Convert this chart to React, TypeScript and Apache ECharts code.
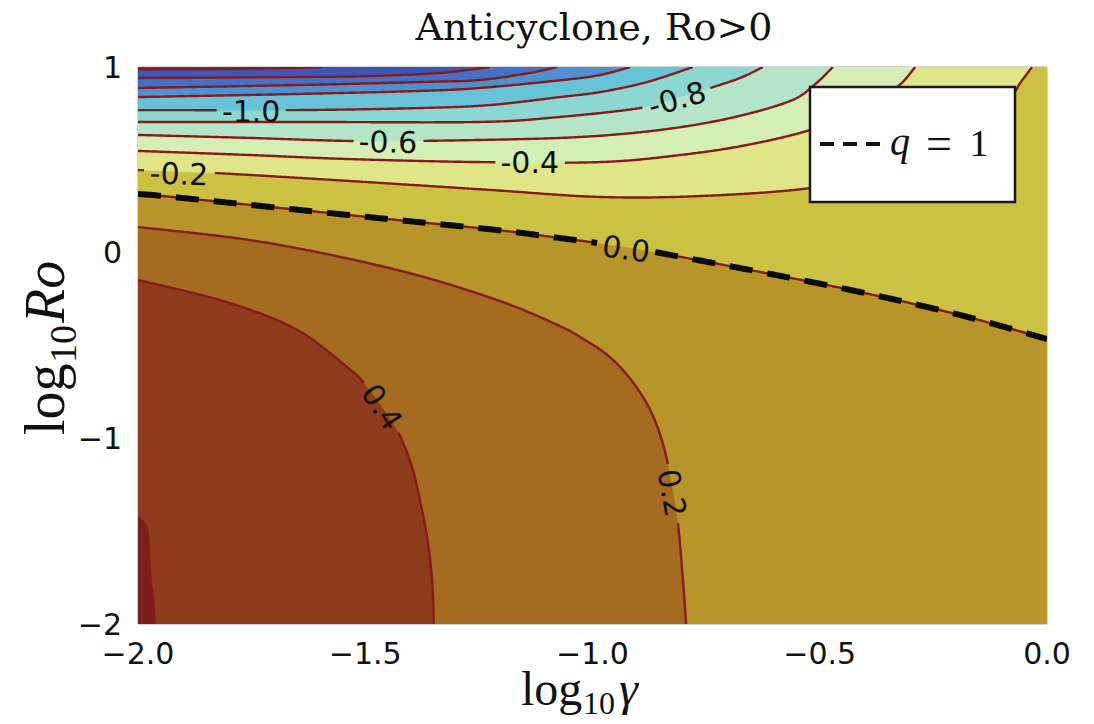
import React, { useEffect, useRef } from 'react';
import * as echarts from 'echarts';

// ---------- data ----------
const xTicks = [-2.0, -1.5, -1.0, -0.5, 0.0];
const yTicks = [-2, -1, 0, 1];

const levels = [0.6, 0.4, 0.2, 0.0, -0.2, -0.4, -0.6, -0.8, -1.0, -1.2, -1.4, -1.6, -1.8];
// bandColors[0]: above the highest level; bandColors[i + 1]: below levels[i]
const bandColors = [
  '#7d1e1d', '#8e3c1d', '#a56b20', '#b8952a', '#cbc244', '#e0e588', '#d5eeb4',
  '#b5e5c9', '#8dd7d2', '#69c3d8', '#4f90d0', '#4470c5', '#3d57b9', '#3a4bb0',
];

const c06x = [-2.0, -1.98, -1.974, -1.967, -1.963];
const c06y = [-1.424, -1.494, -1.709, -1.871, -2.0];
const c04x = [-2.0, -1.798, -1.65, -1.54, -1.501, -1.463, -1.43, -1.402, -1.386, -1.364, -1.353, -1.349];
const c04y = [-0.147, -0.271, -0.416, -0.616, -0.707, -0.831, -0.955, -1.117, -1.262, -1.531, -1.763, -2.0];
const c02x = [-2.0, -1.725, -1.43, -1.21, -1.072, -1.017, -0.973, -0.935, -0.902, -0.873, -0.851, -0.836, -0.823, -0.812, -0.801, -0.794];
const c02y = [0.138, 0.057, -0.093, -0.255, -0.395, -0.47, -0.54, -0.627, -0.729, -0.847, -0.982, -1.117, -1.278, -1.456, -1.763, -2.0];
const c00x = [-2.0, -1.945, -1.688, -1.43, -1.21, -1.072, -0.926, -0.851, -0.631, -0.411, -0.191, 0.0];
const c00y = [0.316, 0.305, 0.241, 0.176, 0.122, 0.079, 0.031, -0.002, -0.104, -0.212, -0.336, -0.465];
const cm02x = [-2.0, -1.831, -1.534, -1.226, -0.983, -0.763, -0.521, -0.323, -0.169, -0.081, -0.059, -0.033];
const cm02y = [0.445, 0.429, 0.386, 0.338, 0.3, 0.305, 0.348, 0.445, 0.634, 0.838, 0.914, 1.0];
const cm04x = [-2.0, -1.754, -1.534, -1.248, -0.983, -0.807, -0.66, -0.521, -0.411, -0.33, -0.29];
const cm04y = [0.548, 0.526, 0.504, 0.488, 0.488, 0.526, 0.58, 0.661, 0.768, 0.892, 1.0];
const cm06x = [-2.0, -1.754, -1.512, -1.248, -1.027, -0.851, -0.697, -0.565, -0.51, -0.471];
const cm06y = [0.634, 0.618, 0.601, 0.607, 0.623, 0.661, 0.725, 0.817, 0.908, 1.0];
const cm08x = [-2.0, -1.644, -1.248, -1.072, -0.895, -0.814, -0.741, -0.675, -0.625];
const cm08y = [0.704, 0.704, 0.704, 0.731, 0.779, 0.833, 0.887, 0.941, 1.0];
const cm10x = [-2.0, -1.644, -1.38, -1.226, -1.072, -0.983, -0.88, -0.779];
const cm10y = [0.768, 0.768, 0.779, 0.795, 0.838, 0.865, 0.919, 1.0];
const cm12x = [-2.0, -1.644, -1.38, -1.248, -1.065, -0.983, -0.917];
const cm12y = [0.838, 0.855, 0.871, 0.887, 0.93, 0.957, 1.0];
const cm14x = [-2.0, -1.644, -1.38, -1.248, -1.138, -1.078];
const cm14y = [0.887, 0.903, 0.919, 0.93, 0.968, 1.0];
const cm16x = [-2.0, -1.644, -1.476, -1.336, -1.259, -1.226];
const cm16y = [0.941, 0.946, 0.952, 0.968, 0.989, 1.0];
const cm18x = [-2.0, -1.798, -1.644, -1.593];
const cm18y = [0.988, 0.99, 0.996, 1.0];

// where each contour leaves the plot (all start on the left edge)
const contourEnds = ['bottom', 'bottom', 'bottom', 'right', 'top', 'top', 'top', 'top', 'top', 'top', 'top', 'top', 'top'];
const contourXs = [c06x, c04x, c02x, c00x, cm02x, cm04x, cm06x, cm08x, cm10x, cm12x, cm14x, cm16x, cm18x];
const contourYs = [c06y, c04y, c02y, c00y, cm02y, cm04y, cm06y, cm08y, cm10y, cm12y, cm14y, cm16y, cm18y];

const labelText = ['-1.0', '-0.8', '-0.6', '-0.4', '-0.2', '0.0', '0.2', '0.4'];
const labelLevel = [-1.0, -0.8, -0.6, -0.4, -0.2, 0.0, 0.2, 0.4];
const labelX = [-1.751, -0.814, -1.45, -1.138, -1.91, -0.926, -0.825, -1.463];
const labelY = [0.758, 0.828, 0.596, 0.483, 0.424, 0.02, -1.294, -0.831];
const labelRot = [0, 16, -1, 0, -2, -8, -80, -56];

const dashedLevel = 0.0; // q = 1

// ---------- styling ----------
const LINE_COLOR = '#861b19';
const LABEL_FONT = 30;
const SANS = "'DejaVu Sans', sans-serif";
const SERIF = "'Liberation Serif', 'DejaVu Serif', serif";

const cornerSets: Record<string, number[][]> = {
  bottom: [[0, -2], [0, 1], [-2, 1]],
  right: [[0, 1], [-2, 1]],
  top: [[-2, 1]],
};

function smoothPx(pts: number[][]): number[][] {
  const out: number[][] = [];
  const n = pts.length;
  for (let i = 0; i < n - 1; i++) {
    const p0 = pts[Math.max(i - 1, 0)];
    const p1 = pts[i];
    const p2 = pts[i + 1];
    const p3 = pts[Math.min(i + 2, n - 1)];
    const len = Math.hypot(p2[0] - p1[0], p2[1] - p1[1]);
    const steps = Math.max(2, Math.ceil(len / 1.5));
    for (let k = 0; k < steps; k++) {
      const t = k / steps;
      const t2 = t * t;
      const t3 = t2 * t;
      const f = (a: number, b: number, c: number, d: number) =>
        0.5 * (2 * b + (-a + c) * t + (2 * a - 5 * b + 4 * c - d) * t2 + (-a + 3 * b - 3 * c + d) * t3);
      out.push([f(p0[0], p1[0], p2[0], p3[0]), f(p0[1], p1[1], p2[1], p3[1])]);
    }
  }
  out.push(pts[n - 1]);
  return out;
}

const charW: Record<string, number> = { '-': 0.361, '.': 0.318 };
function halfGap(t: string) {
  let w = 0;
  for (const ch of t) w += charW[ch] ?? 0.636;
  return (w * LABEL_FONT) / 2 + 5;
}

function buildOption() {
  const fmtX = (v: number) => (v < 0 ? '\u2212' : '') + Math.abs(v).toFixed(1);
  const fmtY = (v: number) => (v < 0 ? '\u2212' : '') + String(Math.abs(v));

  const linePx = (api: any, i: number) =>
    smoothPx(contourXs[i].map((x, j) => api.coord([x, contourYs[i][j]])));

  const x0 = xTicks[0];
  const x1 = xTicks[xTicks.length - 1];
  const y0 = yTicks[0];
  const y1 = yTicks[yTicks.length - 1];

  const fillSeries = {
    type: 'custom',
    coordinateSystem: 'cartesian2d',
    clip: true,
    silent: true,
    z: 1,
    encode: { x: 0, y: 1 },
    data: bandColors.map((_, i) => [-1, -0.5, i]),
    renderItem: (params: any, api: any) => {
      const i = params.dataIndex;
      let pts: number[][];
      if (i === 0) {
        pts = [[x0, y0], [x1, y0], [x1, y1], [x0, y1]].map((p) => api.coord(p));
      } else {
        const k = i - 1;
        pts = linePx(api, k).concat(cornerSets[contourEnds[k]].map((p) => api.coord(p)));
      }
      return {
        type: 'polygon',
        shape: { points: pts },
        style: { fill: bandColors[i], stroke: bandColors[i], lineWidth: 0.6 },
      };
    },
  };

  const lineSeries = {
    type: 'custom',
    coordinateSystem: 'cartesian2d',
    clip: true,
    silent: true,
    z: 3,
    encode: { x: 0, y: 1 },
    data: levels.map((_, i) => [-1, -0.5, i]),
    renderItem: (params: any, api: any) => {
      const i = params.dataIndex;
      const lvl = levels[i];
      const dense = linePx(api, i);
      const labs: { p: number[]; r: number; t: string; rot: number }[] = [];
      labelLevel.forEach((L, j) => {
        if (Math.abs(L - lvl) < 1e-6) {
          labs.push({ p: api.coord([labelX[j], labelY[j]]), r: halfGap(labelText[j]), t: labelText[j], rot: labelRot[j] });
        }
      });
      const runs: number[][][] = [];
      let cur: number[][] = [];
      for (const p of dense) {
        const inside = labs.some((l) => Math.hypot(p[0] - l.p[0], p[1] - l.p[1]) < l.r);
        if (inside) {
          if (cur.length > 1) runs.push(cur);
          cur = [];
        } else cur.push(p);
      }
      if (cur.length > 1) runs.push(cur);
      const children: any[] = runs.map((r) => ({
        type: 'polyline',
        shape: { points: r },
        style: { stroke: LINE_COLOR, lineWidth: 2.4, fill: 'none' },
      }));
      if (Math.abs(lvl - dashedLevel) < 1e-6) {
        runs.forEach((r) =>
          children.push({
            type: 'polyline',
            shape: { points: r },
            style: { stroke: '#0a0a0a', lineWidth: 6, fill: 'none', lineDash: [23, 15] },
          })
        );
      }
      labs.forEach((l) =>
        children.push({
          type: 'text',
          x: l.p[0],
          y: l.p[1],
          rotation: (l.rot * Math.PI) / 180,
          style: {
            text: l.t,
            fontSize: LABEL_FONT,
            fontFamily: SANS,
            fill: '#111',
            align: 'center',
            verticalAlign: 'middle',
            textAlign: 'center',
            textVerticalAlign: 'middle',
          },
        })
      );
      return { type: 'group', children };
    },
  };

  const txt = (text: string, x: number, y: number, size: number, family: string, extra: any = {}, align = 'left') => ({
    type: 'text',
    x,
    y,
    z: 100,
    style: {
      text,
      fontSize: size,
      fontFamily: family,
      fill: '#111',
      align,
      verticalAlign: 'middle',
      textAlign: align,
      textVerticalAlign: 'middle',
      ...extra,
    },
  });

  return {
    animation: false,
    backgroundColor: '#ffffff',
    grid: { left: 138, right: 47, top: 67, bottom: 100, show: true, borderColor: '#a8a8a8', borderWidth: 1, backgroundColor: 'transparent' },
    xAxis: {
      type: 'value',
      min: x0,
      max: x1,
      interval: 0.5,
      axisLine: { show: false },
      axisTick: { show: false },
      splitLine: { show: false },
      axisLabel: { formatter: fmtX, color: '#111', fontSize: 30, fontFamily: SANS, margin: 14, showMinLabel: true, showMaxLabel: true },
    },
    yAxis: {
      type: 'value',
      min: y0,
      max: y1,
      interval: 1,
      axisLine: { show: false },
      axisTick: { show: false },
      splitLine: { show: false },
      axisLabel: { formatter: fmtY, color: '#111', fontSize: 30, fontFamily: SANS, margin: 16, showMinLabel: true, showMaxLabel: true },
    },
    series: [fillSeries, lineSeries],
    graphic: {
      elements: [
        txt('Anticyclone, Ro>0', 594, 27, 38, "'DejaVu Serif', serif", {}, 'center'),
        // x axis name
        txt('log', 521, 688, 48, SERIF),
        txt('10', 583, 703, 32, SERIF),
        txt('\u03b3', 619, 688, 48, SERIF, { fontStyle: 'italic' }),
        // y axis name (rotated)
        {
          type: 'group',
          x: 45,
          y: 347,
          rotation: Math.PI / 2,
          z: 100,
          children: [
            txt('log', -88, 0, 56, SERIF),
            txt('10', -16, 18, 38, SERIF),
            txt('Ro', 24, 0, 56, SERIF, { fontStyle: 'italic' }),
          ],
        },
        // legend
        {
          type: 'rect',
          z: 100,
          shape: { x: 810, y: 87, width: 205, height: 115 },
          style: { fill: '#ffffff', stroke: '#1a1a1a', lineWidth: 2.5 },
        },
        {
          type: 'line',
          z: 101,
          shape: { x1: 820, y1: 144, x2: 881, y2: 144 },
          style: { stroke: '#111', lineWidth: 4, lineDash: [14, 9] },
        },
        txt('q', 890, 141, 40, SERIF, { fontStyle: 'italic' }),
        txt('=', 939, 143, 46, SERIF, {}, 'center'),
        txt('1', 979, 143, 38, SERIF, {}, 'center'),
      ],
    },
  };
}

export default function App() {
  const ref = useRef<HTMLDivElement>(null);
  useEffect(() => {
    document.body.style.margin = '0';
    const chart = echarts.init(ref.current as HTMLDivElement, null, { renderer: 'svg' });
    chart.setOption(buildOption() as any);
    return () => chart.dispose();
  }, []);
  return <div ref={ref} style={{ width: 1094, height: 724 }} />;
}
